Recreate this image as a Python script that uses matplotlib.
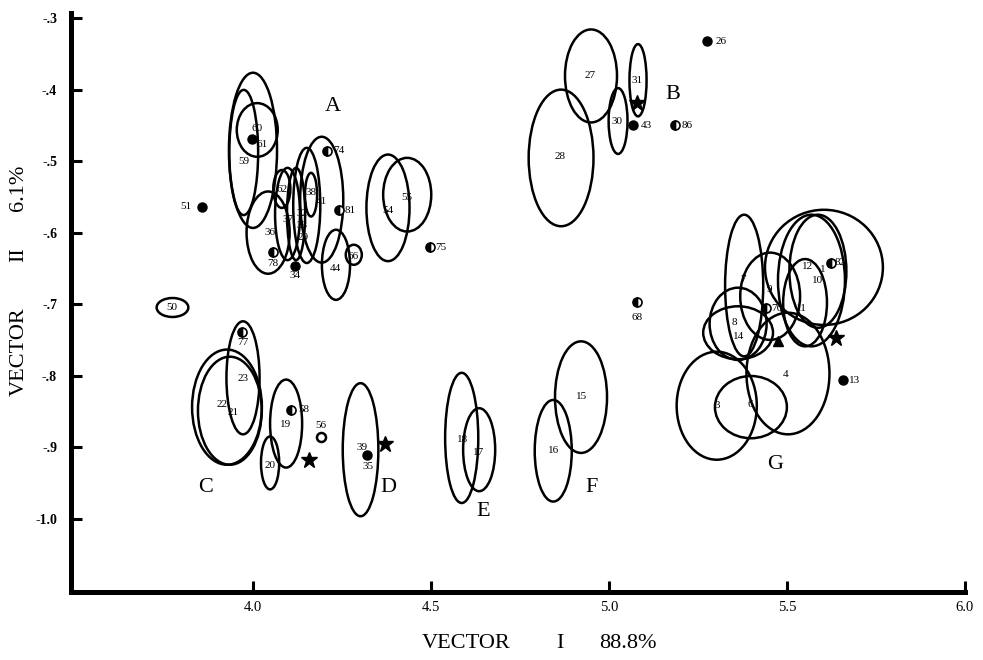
import matplotlib
matplotlib.use("Agg")
import matplotlib.pyplot as plt
from matplotlib.patches import Ellipse

# ---------------- data ----------------
# ellipses: centre x, centre y, width, height (data units)
ell_x = [4.001, 4.013, 3.975, 4.0435, 4.082, 4.098, 4.152, 4.194, 4.164, 4.122,
         4.234, 4.284, 4.380, 4.434,
         3.775, 3.973, 3.928, 3.936, 4.094, 4.049, 4.303,
         4.587, 4.636, 4.844, 4.922,
         4.950, 4.866, 5.026, 5.082,
         5.380, 5.604, 5.569, 5.587, 5.453, 5.551, 5.363, 5.363, 5.503, 5.303, 5.399]
ell_y = [-0.485, -0.4565, -0.488, -0.600, -0.539, -0.574, -0.562, -0.554, -0.547, -0.574,
         -0.645, -0.631, -0.5654, -0.547,
         -0.7047, -0.803, -0.844, -0.849, -0.867, -0.922, -0.9035,
         -0.887, -0.9035, -0.905, -0.830,
         -0.381, -0.4956, -0.444, -0.387,
         -0.674, -0.6486, -0.667, -0.654, -0.689, -0.698, -0.7275, -0.740, -0.797, -0.842, -0.844]
ell_w = [0.135, 0.115, 0.081, 0.121, 0.048, 0.070, 0.076, 0.121, 0.034, 0.051,
         0.079, 0.045, 0.121, 0.135,
         0.089, 0.093, 0.196, 0.179, 0.090, 0.051, 0.100,
         0.093, 0.090, 0.104, 0.146,
         0.146, 0.182, 0.053, 0.048,
         0.107, 0.331, 0.188, 0.160, 0.168, 0.123, 0.160, 0.196, 0.233, 0.225, 0.202]
ell_h = [0.217, 0.075, 0.175, 0.115, 0.053, 0.129, 0.161, 0.176, 0.061, 0.129,
         0.098, 0.028, 0.149, 0.103,
         0.0265, 0.158, 0.161, 0.151, 0.123, 0.074, 0.186,
         0.182, 0.116, 0.142, 0.156,
         0.130, 0.191, 0.092, 0.101,
         0.198, 0.161, 0.184, 0.158, 0.122, 0.122, 0.101, 0.074, 0.170, 0.151, 0.087]

# solid points
solid_x = [3.858, 3.998, 4.119, 4.322, 5.069, 5.275, 5.6565]
solid_y = [-0.5636, -0.4695, -0.6465, -0.9115, -0.4495, -0.3317, -0.8057]
# half-filled points
half_x = [4.208, 4.243, 4.057, 4.498, 3.970, 4.108, 5.186, 5.079, 5.623, 5.441]
half_y = [-0.486, -0.568, -0.6265, -0.620, -0.739, -0.8476, -0.4495, -0.697, -0.642, -0.7056]
# open points
open_x = [4.191]
open_y = [-0.886]
# stars
star_x = [4.157, 4.372, 5.078, 5.638]
star_y = [-0.918, -0.896, -0.419, -0.7475]
# triangle
tri_x = [5.476]
tri_y = [-0.752]

# number labels
num_text = ["60", "61", "59", "62", "38", "41", "37", "32", "33", "29", "36", "78", "34",
            "44", "66", "74", "81", "54", "55", "75", "51",
            "50", "77", "23", "22", "21", "19", "58", "56", "20", "39", "35",
            "18", "17", "16", "15",
            "27", "28", "30", "31", "43", "86", "26", "68",
            "7", "12", "1", "82", "10", "9", "76", "11", "8", "14", "4", "3", "6", "13"]
num_x = [4.0118, 4.0258, 3.9742, 4.082, 4.1634, 4.1942, 4.1005, 4.1381, 4.139, 4.1418,
         4.0491, 4.0567, 4.1193,
         4.2316, 4.283, 4.2409, 4.2737, 4.3784, 4.4329, 4.5292, 3.8133,
         3.774, 3.9714, 3.9742, 3.9152, 3.9461, 4.0912, 4.1426, 4.1914, 4.0491, 4.3065, 4.3251,
         4.5889, 4.6338, 4.8463, 4.9241,
         4.9474, 4.8632, 5.024, 5.0802, 5.1046, 5.2188, 5.3151, 5.0793,
         5.376, 5.5574, 5.600, 5.6496, 5.5855, 5.4499, 5.4715, 5.5416, 5.3525, 5.3637,
         5.4976, 5.3031, 5.3965, 5.6912]
num_y = [-0.4541, -0.4774, -0.5008, -0.5403, -0.5441, -0.5567, -0.5822, -0.5739, -0.5906, -0.6074,
         -0.600, -0.6427, -0.6605,
         -0.6497, -0.6335, -0.4854, -0.5692, -0.5692, -0.5505, -0.6214, -0.5641,
         -0.7052, -0.7537, -0.8034, -0.8407, -0.8515, -0.8677, -0.8477, -0.870, -0.9255, -0.9004, -0.9269,
         -0.8896, -0.9068, -0.9046, -0.8291,
         -0.3806, -0.4938, -0.4449, -0.3876, -0.4505, -0.4505, -0.3331, -0.7192,
         -0.666, -0.6475, -0.6511, -0.6419, -0.6675, -0.6791, -0.7066, -0.7056, -0.7252, -0.7453,
         -0.7988, -0.8421, -0.8407, -0.8072]

# group letters
grp_text = ["A", "B", "C", "D", "E", "F", "G"]
grp_x = [4.226, 5.1804, 3.8667, 4.3804, 4.647, 4.9502, 5.4667]
grp_y = [-0.4243, -0.4076, -0.9567, -0.9567, -0.9902, -0.9567, -0.9245]

xticks = [4.0, 4.5, 5.0, 5.5, 6.0]
xticklabels = ["4.0", "4.5", "5.0", "5.5", "6.0"]
yticks = [-0.3, -0.4, -0.5, -0.6, -0.7, -0.8, -0.9, -1.0]
yticklabels = ["-.3", "-.4", "-.5", "-.6", "-.7", "-.8", "-.9", "-1.0"]

xlabel_parts = ["VECTOR", "I", "88.8%"]
ylabel_parts = ["VECTOR", "II", "6.1%"]

# ---------------- drawing ----------------
SERIF = ["Liberation Serif", "DejaVu Serif"]
W, H = 983, 660
fig = plt.figure(figsize=(W / 100, H / 100), dpi=100)
ax = fig.add_axes([0.0722, 0.1035, 0.9131, 0.8768])

for x, y, w, h in zip(ell_x, ell_y, ell_w, ell_h):
    ax.add_patch(Ellipse((x, y), w, h, fill=False, edgecolor="black", linewidth=1.8))

ax.plot(solid_x, solid_y, "o", color="black", markersize=6.5, linestyle="none")
ax.plot(half_x, half_y, "o", color="black", markersize=6.5, fillstyle="left",
        markerfacecoloralt="white", markeredgewidth=1.2, linestyle="none")
ax.plot(open_x, open_y, "o", markerfacecolor="white", markeredgecolor="black",
        markersize=6.5, markeredgewidth=1.8, linestyle="none")
ax.plot(star_x, star_y, "*", color="black", markersize=12, linestyle="none")
ax.plot(tri_x, tri_y, "^", color="black", markersize=7, linestyle="none")

for t, x, y in zip(num_text, num_x, num_y):
    ax.text(x, y, t, fontsize=8, family=SERIF, ha="center", va="center")
for t, x, y in zip(grp_text, grp_x, grp_y):
    ax.text(x, y, t, fontsize=16, family=SERIF, ha="center", va="center")

ax.set_xlim(3.49, 6.01)
ax.set_ylim(-1.102, -0.293)
ax.spines["top"].set_visible(False)
ax.spines["right"].set_visible(False)
ax.spines["left"].set_linewidth(3.6)
ax.spines["bottom"].set_linewidth(3.6)
ax.spines["bottom"].set_bounds(3.49, 6.0)
ax.spines["left"].set_capstyle("projecting")
ax.spines["bottom"].set_capstyle("projecting")

ax.set_xticks(xticks)
ax.set_xticklabels(xticklabels, family=SERIF, fontsize=10.5)
ax.set_yticks(yticks)
ax.set_yticklabels(yticklabels, family=SERIF, fontsize=10, fontweight="bold")
ax.tick_params(axis="both", direction="in", length=8, width=2.2)
ax.tick_params(axis="x", pad=7)
ax.tick_params(axis="y", pad=10)

# axis titles (pixel positions converted to figure fractions)
for t, px in zip(xlabel_parts, [466, 560, 628]):
    fig.text(px / W, 1 - 643 / H, t, family=SERIF, fontsize=16, ha="center", va="center")
for t, py in zip(ylabel_parts, [352, 255, 188]):
    fig.text(19 / W, 1 - py / H, t, family=SERIF, fontsize=16, ha="center", va="center",
             rotation=90)

fig.savefig("out.png", dpi=100)
